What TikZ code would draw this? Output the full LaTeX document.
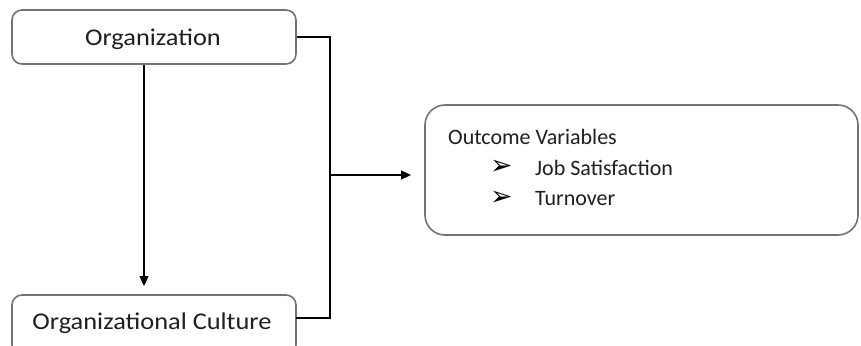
\documentclass[tikz,border=0pt]{standalone}
\usepackage{fontspec}
\setmainfont{Carlito}
\newfontfamily\symfont{DejaVu Sans}
\usetikzlibrary{arrows.meta}
\tikzset{
  box/.style={draw=black!55, line width=1.6pt, rounded corners=10pt, fill=white, inner sep=0pt},
  conn/.style={draw=black, line width=1.2pt},
  lbl/.style={font=\fontsize{22}{26}\selectfont, text=black!88, inner sep=0pt},
  biglbl/.style={font=\fontsize{24}{28}\selectfont, text=black!88, inner sep=0pt, xscale=1.1},
  bullet/.style={font=\symfont\fontsize{27}{30}\selectfont, text=black, inner sep=0pt},
  tip/.style={-{Triangle[length=10pt,width=9pt]}}
}
\begin{document}
\begin{tikzpicture}[x=1pt,y=-1pt]
\useasboundingbox (0,0) rectangle (861,345);
\clip (0,0) rectangle (861,345);
\node[box, minimum width=284pt, minimum height=54pt] (org) at (154,37) {};
\node[biglbl] (orgt) at (153,39) {Organization};
\node[box, minimum width=284pt, minimum height=60pt] (cult) at (154,325) {};
\node[biglbl] (cultt) at (152,323) {Organizational Culture};
\node[box, rounded corners=20pt, minimum width=433pt, minimum height=130pt] (out) at (641.5,170) {};
\node[lbl, anchor=west] (t1) at (448,137) {Outcome Variables};
\node[bullet, anchor=west] (b1) at (490,167) {➢};
\node[lbl, anchor=west] (t2) at (535,168) {Job Satisfaction};
\node[bullet, anchor=west] (b2) at (490,198) {➢};
\node[lbl, anchor=west] (t3) at (535,199) {Turnover};
\coordinate (j) at (330,175);
\coordinate (ce) at (296,318);
\draw[conn] (org.east) -| (j) |- (ce);
\draw[conn, tip] (j) -- (411,175);
\draw[conn, tip] (org.south -| 144,0) -- (144,286);
\end{tikzpicture}
\end{document}
